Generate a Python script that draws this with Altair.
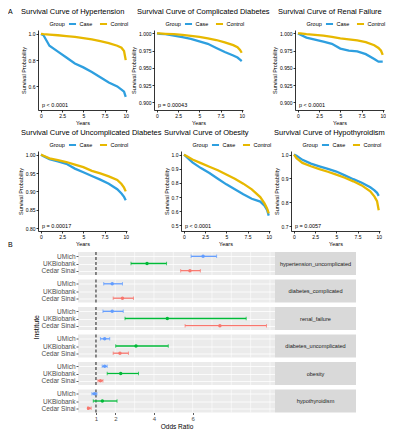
import altair as alt
import pandas as pd

FONT = "Liberation Sans"
BLUE = "#2E9FDF"
GOLD = "#E7B800"

# ---------------- Survival curves (panel A) ----------------
years = [0, 0.3, 1, 2, 3, 4, 5, 6, 7, 8, 9, 9.5, 9.8, 10]
panels = ["Hypertension", "Complicated Diabetes", "Renal Failure",
          "Uncomplicated Diabetes", "Obesity", "Hypothyroidism"]

case_hypertension = [1.0, 0.99, 0.91, 0.865, 0.82, 0.775, 0.745, 0.71, 0.67, 0.63, 0.60, 0.575, 0.56, 0.52]
control_hypertension = [1.0, 0.998, 0.995, 0.99, 0.984, 0.977, 0.968, 0.958, 0.945, 0.93, 0.91, 0.895, 0.87, 0.80]
case_comp_diabetes = [1.0, 0.9995, 0.999, 0.997, 0.9945, 0.992, 0.9885, 0.985, 0.979, 0.973, 0.968, 0.965, 0.962, 0.960]
control_comp_diabetes = [1.0, 1.0, 0.9995, 0.999, 0.998, 0.9965, 0.995, 0.993, 0.9905, 0.987, 0.983, 0.980, 0.976, 0.972]
case_renal = [1.0, 0.998, 0.994, 0.991, 0.988, 0.985, 0.978, 0.975, 0.974, 0.970, 0.963, 0.959, 0.959, 0.959]
control_renal = [1.0, 1.0, 0.999, 0.998, 0.9967, 0.995, 0.993, 0.9915, 0.990, 0.9875, 0.983, 0.979, 0.975, 0.969]
case_uncomp_diabetes = [1.0, 0.996, 0.988, 0.982, 0.975, 0.962, 0.952, 0.942, 0.932, 0.921, 0.906, 0.894, 0.885, 0.876]
control_uncomp_diabetes = [1.0, 0.997, 0.990, 0.985, 0.980, 0.973, 0.966, 0.956, 0.949, 0.941, 0.931, 0.920, 0.910, 0.900]
case_obesity = [1.0, 0.985, 0.945, 0.905, 0.87, 0.83, 0.79, 0.755, 0.72, 0.688, 0.668, 0.64, 0.61, 0.569]
control_obesity = [1.0, 0.99, 0.966, 0.94, 0.915, 0.89, 0.86, 0.83, 0.795, 0.755, 0.70, 0.655, 0.62, 0.584]
case_hypothyroidism = [1.0, 0.995, 0.978, 0.962, 0.951, 0.94, 0.929, 0.913, 0.897, 0.882, 0.863, 0.85, 0.84, 0.827]
control_hypothyroidism = [1.0, 0.985, 0.965, 0.951, 0.939, 0.928, 0.916, 0.903, 0.888, 0.871, 0.846, 0.824, 0.805, 0.767]

case_curves = [case_hypertension, case_comp_diabetes, case_renal,
               case_uncomp_diabetes, case_obesity, case_hypothyroidism]
control_curves = [control_hypertension, control_comp_diabetes, control_renal,
                  control_uncomp_diabetes, control_obesity, control_hypothyroidism]
p_values = ["p < 0.0001", "p = 0.00043", "p < 0.0001", "p = 0.00017", "p < 0.0001", "p = 0.0057"]

y_domains = [[0.42, 1.03], [0.889, 1.005], [0.889, 1.005], [0.792, 1.01], [0.46, 1.026], [0.68, 1.015]]
y_ticks = [[0.6, 0.8, 1.0], [0.9, 0.925, 0.95, 0.975, 1.0], [0.9, 0.925, 0.95, 0.975, 1.0],
           [0.8, 0.85, 0.9, 0.95, 1.0], [0.5, 0.6, 0.7, 0.8, 0.9, 1.0], [0.7, 0.8, 0.9, 1.0]]
y_formats = [".1f", ".3f", ".3f", ".2f", ".1f", ".1f"]
x_ticks = [0, 2.5, 5, 7.5, 10]

rows = []
for name, cs_, ct_ in zip(panels, case_curves, control_curves):
    for t, v in zip(years, cs_):
        rows.append({"panel": name, "Group": "Case", "t": t, "s": v})
    for t, v in zip(years, ct_):
        rows.append({"panel": name, "Group": "Control", "t": t, "s": v})
surv_df = pd.DataFrame(rows)

SW, SH = 89, 80


def text_layer(txt, x, y, size):
    return alt.Chart(pd.DataFrame({"lab": [txt]})).mark_text(
        align="left", baseline="top", fontSize=size, font=FONT, color="black"
    ).encode(text="lab:N", x=alt.value(x), y=alt.value(y))


def surv_panel(i, extra=None):
    d = surv_df[surv_df["panel"] == panels[i]]
    lines = alt.Chart(d).mark_line(strokeWidth=2.3, clip=True).encode(
        x=alt.X("t:Q", scale=alt.Scale(domain=[-0.35, 10.15], nice=False, zero=False),
                axis=alt.Axis(values=x_ticks, format=".1~f", title="Years")),
        y=alt.Y("s:Q", scale=alt.Scale(domain=y_domains[i], nice=False, zero=False),
                axis=alt.Axis(values=y_ticks[i], format=y_formats[i], title="Survival Probability")),
        color=alt.Color("Group:N", scale=alt.Scale(domain=["Case", "Control"], range=[BLUE, GOLD]),
                        legend=alt.Legend(orient="none", legendX=SW / 2 - 33, legendY=-11,
                                          direction="horizontal", titleOrient="left", title="Group",
                                          symbolType="stroke", symbolStrokeWidth=2, symbolSize=50,
                                          labelFontSize=5.5, titleFontSize=5.5,
                                          titleFontWeight="normal", labelFont=FONT, titleFont=FONT,
                                          columnPadding=3, titlePadding=2, padding=0, labelOffset=2,
                                          labelColor="black", titleColor="black")),
        detail="Group:N",
    )
    ptext = alt.Chart(pd.DataFrame({"p": [p_values[i]]})).mark_text(
        align="left", baseline="bottom", fontSize=5.5, font=FONT, color="black"
    ).encode(text="p:N", x=alt.value(4), y=alt.value(SH - 2))
    title = text_layer("Survival Curve of " + panels[i], -17, -22, 7.5)
    layers = [lines, ptext, title] + ([extra] if extra is not None else [])
    return alt.layer(*layers).properties(width=SW, height=SH)


row1 = alt.hconcat(surv_panel(0, text_layer("A", -30, -22, 7)), surv_panel(1), surv_panel(2),
                   spacing=2).resolve_scale(color="independent").resolve_legend(color="independent")
row2 = alt.hconcat(surv_panel(3, text_layer("B", -30, SH + 10, 7)), surv_panel(4), surv_panel(5),
                   spacing=2).resolve_scale(color="independent").resolve_legend(color="independent")

# ---------------- Forest plot (panel B) ----------------
diseases = ["hypertension_uncomplicated", "diabetes_complicated", "renal_failure",
            "diabetes_uncomplicated", "obesity", "hypothyroidism"]
institutes = ["UMich", "UKBiobank", "Cedar Sinai"]

or_umich = [6.54, 1.84, 1.84, 1.45, 1.45, 0.92]
lo_umich = [5.92, 1.40, 1.36, 1.23, 1.32, 0.79]
hi_umich = [7.24, 2.37, 2.41, 1.71, 1.58, 1.05]
or_ukb = [3.64, None, 4.69, 3.07, 2.28, 1.33]
lo_ukb = [2.81, None, 2.50, 2.02, 1.58, 0.86]
hi_ukb = [4.65, None, 8.77, 4.74, 3.20, 2.09]
or_cedar = [5.86, 2.37, 7.41, 2.24, 1.23, 0.61]
lo_cedar = [5.38, 1.89, 5.61, 1.89, 1.10, 0.57]
hi_cedar = [6.40, 2.94, 9.82, 2.68, 1.36, 0.75]

inst_colors = ["#619CFF", "#00BA38", "#F8766D"]
x_labels = [1, 2, 4, 6]
x_grid = [1, 2, 3, 4, 5, 6, 7, 8, 9, 10]

frows = []
for k, dis in enumerate(diseases):
    for inst, o, lo, hi in [("UMich", or_umich, lo_umich, hi_umich),
                            ("UKBiobank", or_ukb, lo_ukb, hi_ukb),
                            ("Cedar Sinai", or_cedar, lo_cedar, hi_cedar)]:
        if o[k] is not None:
            frows.append({"disease": dis, "inst": inst, "or": o[k], "lo": lo[k], "hi": hi[k]})
forest_df = pd.DataFrame(frows)
grid_df = pd.DataFrame({"g": x_grid})

FW, FH, STRIP, GAP = 197, 23, 81, 2.5
xs = alt.Scale(domain=[0.07, 10.26], nice=False, zero=False)
ys = alt.Scale(type="point", domain=institutes, padding=0.6)
cs = alt.Scale(domain=institutes, range=inst_colors)


def forest_row(k):
    bottom = k == len(diseases) - 1
    d = forest_df[forest_df["disease"] == diseases[k]]
    if bottom:
        xaxis = alt.Axis(values=x_labels, title="Odds Ratio", grid=False, domain=False,
                         tickColor="#333333", tickSize=2, labelFontSize=6, labelColor="#4D4D4D",
                         labelFont=FONT, titleFontSize=6.5, titleFont=FONT,
                         titleFontWeight="normal", titleColor="black", titlePadding=2,
                         labelPadding=1)
    else:
        xaxis = None
    yaxis = alt.Axis(title=None, grid=True, gridColor="white", gridWidth=0.8, domain=False,
                     tickColor="#333333", tickSize=2, labelFontSize=6.5, labelColor="#4D4D4D",
                     labelFont=FONT, labelPadding=1)
    base = alt.Chart(d)
    grid = alt.Chart(grid_df).mark_rule(color="white", strokeWidth=0.6).encode(
        x=alt.X("g:Q", scale=xs, axis=xaxis))
    ref = alt.Chart(pd.DataFrame({"ref": [1]})).mark_rule(
        strokeDash=[3, 2], color="black", strokeWidth=0.9).encode(x=alt.X("ref:Q", scale=xs))
    ci = base.mark_rule(strokeWidth=1.3).encode(
        x=alt.X("lo:Q", scale=xs), x2="hi:Q",
        y=alt.Y("inst:N", scale=ys, axis=yaxis),
        color=alt.Color("inst:N", scale=cs, legend=None))
    caps = base.transform_fold(["lo", "hi"], as_=["end", "val"]).mark_tick(
        thickness=1, size=3.5, orient="vertical").encode(
        x=alt.X("val:Q", scale=xs), y=alt.Y("inst:N", scale=ys),
        color=alt.Color("inst:N", scale=cs, legend=None))
    pts = base.mark_point(filled=True, size=12, opacity=1).encode(
        x=alt.X("or:Q", scale=xs), y=alt.Y("inst:N", scale=ys),
        color=alt.Color("inst:N", scale=cs, legend=None))
    plot = alt.layer(grid, ref, ci, caps, pts).properties(
        width=FW, height=FH, view=alt.ViewBackground(fill="#EBEBEB", strokeWidth=0))
    strip_bg = alt.Chart(pd.DataFrame({"d": [diseases[k]]})).mark_rect(color="#D9D9D9").encode(
        x=alt.value(0), x2=alt.value(STRIP), y=alt.value(0), y2=alt.value(FH))
    strip_txt = alt.Chart(pd.DataFrame({"d": [diseases[k]]})).mark_text(
        fontSize=5.6, font=FONT, color="#1A1A1A").encode(
        text="d:N", x=alt.value(STRIP / 2), y=alt.value(FH / 2))
    strip = alt.layer(strip_bg, strip_txt).properties(width=STRIP, height=FH)
    return alt.hconcat(plot, strip, spacing=0)


forest_rows = alt.vconcat(*[forest_row(k) for k in range(len(diseases))], spacing=GAP)
FTOT = 6 * FH + 5 * GAP
inst_title = alt.Chart(pd.DataFrame({"t": ["Institute"]})).mark_text(
    angle=270, fontSize=7, font=FONT, color="black", baseline="middle", align="center"
).encode(text="t:N", x=alt.value(-1), y=alt.value(FTOT / 2)).properties(width=3, height=FTOT)

forest = alt.hconcat(inst_title, forest_rows, spacing=0)

chart = alt.concat(row1, row2, forest, columns=1, align="none", spacing=3).resolve_scale(
    color="independent").resolve_legend(color="independent").configure_view(
    strokeWidth=0).configure_axis(
    grid=False, domainColor="black", tickColor="black", tickSize=2, labelFontSize=5,
    titleFontSize=5.5, labelFont=FONT, titleFont=FONT, labelColor="black", titleColor="black",
    titleFontWeight="normal", labelPadding=1, titlePadding=2, domainWidth=0.8, tickWidth=0.8
).properties(padding=0, background="white")

chart.save("out.html", embed_options={"renderer": "svg", "actions": False})
